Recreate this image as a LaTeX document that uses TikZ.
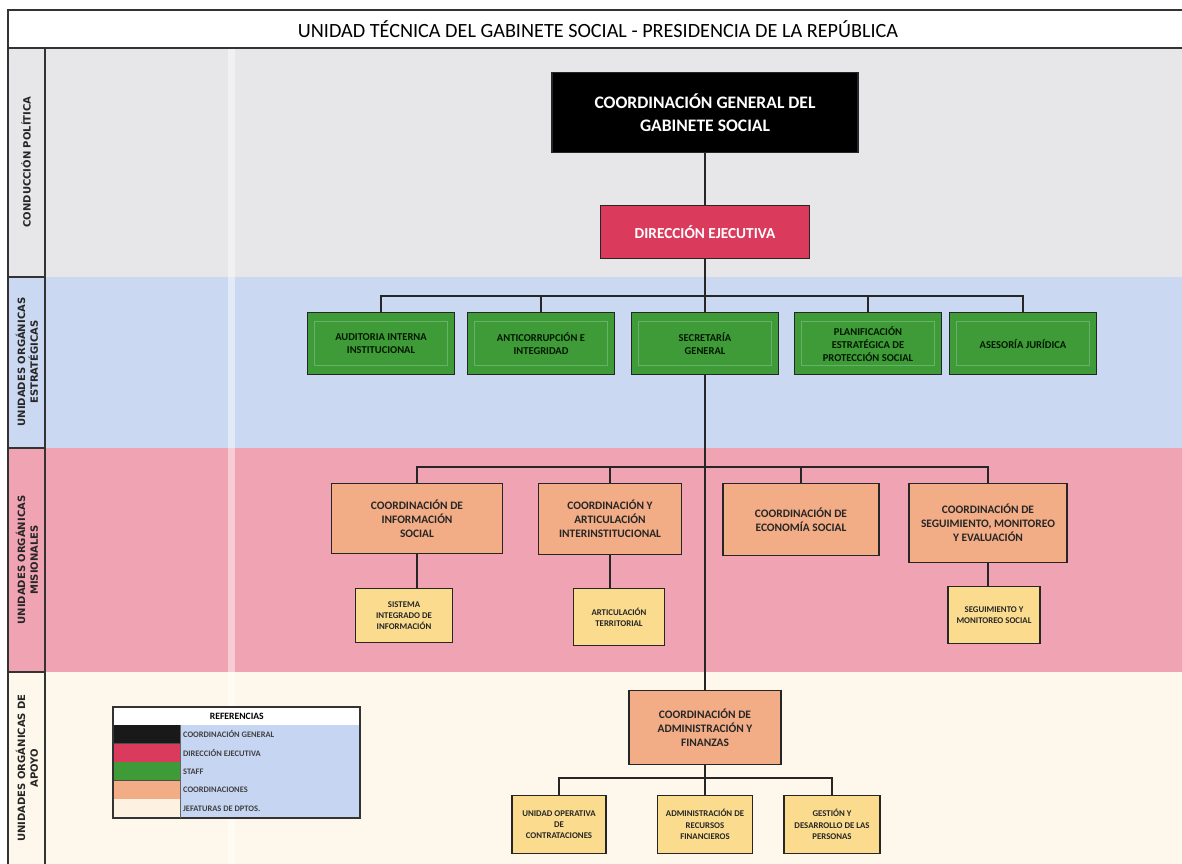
\documentclass[tikz,border=0pt]{standalone}
\usepackage{fontspec}
\setmainfont{Carlito}
\newfontfamily\bandfont{DejaVu Sans}
\definecolor{bandgray}{HTML}{E7E7E9}
\definecolor{bandblue}{HTML}{CBD8F1}
\definecolor{bandpink}{HTML}{F0A3B3}
\definecolor{bandcream}{HTML}{FDF8EB}
\definecolor{dirred}{HTML}{DA3A5C}
\definecolor{staffgreen}{HTML}{3F9B37}
\definecolor{coordorange}{HTML}{F2AC86}
\definecolor{jefeyellow}{HTML}{FBDC8E}
\definecolor{refcream}{HTML}{FDF2E2}
\definecolor{refblue}{HTML}{C6D6F2}

\begin{document}
\begin{tikzpicture}[x=0.02cm,y=0.02cm,
  box/.style={draw=black!85,line width=0.8pt,align=center,inner sep=1pt,anchor=north},
  staffbox/.style={box,fill=staffgreen,text=black!90!green,minimum width=2.94cm,minimum height=1.24cm,
    font=\bfseries\fontsize{6}{7.4}\selectfont,
    path picture={\draw[green!50!black!60,line width=0.5pt] ([shift={(4pt,5pt)}]path picture bounding box.south west) rectangle ([shift={(-4pt,-5pt)}]path picture bounding box.north east);}},
  coordbox/.style={box,fill=coordorange,text=black!85,font=\bfseries\fontsize{6.5}{8}\selectfont},
  jefebox/.style={box,fill=jefeyellow,text=black!85,font=\bfseries\fontsize{5}{6.5}\selectfont},
  link/.style={line width=1.1pt,black!85},
  bandlabel/.style={rotate=90,align=center,text=black!85,font=\bandfont\bfseries\fontsize{5.7}{7.2}\selectfont},
  reftext/.style={anchor=west,inner sep=1pt,text=black!75,font=\bfseries\fontsize{4.8}{5}\selectfont}]
\useasboundingbox (0,0) rectangle (1182,864);
\fill[white] (0,0) rectangle (1182,864);
\fill[bandgray] (8,587) rectangle (1182,816);
\fill[bandblue] (8,416) rectangle (1182,587);
\fill[bandpink] (8,192) rectangle (1182,416);
\fill[bandcream] (8,0) rectangle (1182,192);
\fill[white,opacity=0.45] (228,0) rectangle (235,816);
\draw[line width=0.8pt,black!80] (8,0) -- (8,854) -- (1182,854);
\draw[line width=0.8pt,black!80] (8,816) -- (1182,816);
\draw[line width=0.8pt,black!80] (45,0) -- (45,816);
\foreach \y in {587,416,192} {
    \draw[line width=0.8pt,black!80] (8,\y) -- (45,\y);
}
\node[font=\fontsize{11.5}{13}\selectfont] (titulo) at (598,835) {UNIDAD TÉCNICA DEL GABINETE SOCIAL - PRESIDENCIA DE LA REPÚBLICA};
\node[bandlabel] (conduccion) at (26,702) {CONDUCCIÓN POLÍTICA};
\node[bandlabel] (estrategicas) at (27,502) {UNIDADES ORGÁNICAS\\ESTRATÉGICAS};
\node[bandlabel] (misionales) at (27,304) {UNIDADES ORGÁNICAS\\MISIONALES};
\node[bandlabel] (apoyo) at (27,96) {UNIDADES ORGÁNICAS DE\\APOYO};

\node[box,fill=black,text=white,minimum width=6.12cm,minimum height=1.6cm,font=\bfseries\fontsize{10}{13}\selectfont] (cg) at (705,792) {COORDINACIÓN GENERAL DEL\\GABINETE SOCIAL};
\node[box,fill=dirred,text=white,minimum width=4.18cm,minimum height=1.06cm,font=\bfseries\fontsize{8.7}{10}\selectfont] (de) at (705,659) {DIRECCIÓN EJECUTIVA};

\node[staffbox] (aud) at (381,552) {AUDITORIA INTERNA\\INSTITUCIONAL};
\node[staffbox] (anti) at (541,552) {ANTICORRUPCIÓN E\\INTEGRIDAD};
\node[staffbox] (sec) at (705,552) {SECRETARÍA\\GENERAL};
\node[staffbox] (plan) at (868,552) {PLANIFICACIÓN\\ESTRATÉGICA DE\\PROTECCIÓN SOCIAL};
\node[staffbox] (ase) at (1023,552) {ASESORÍA JURÍDICA};

\node[coordbox,minimum width=3.42cm,minimum height=1.4cm] (info) at (417,381) {COORDINACIÓN DE\\INFORMACIÓN\\SOCIAL};
\node[coordbox,minimum width=2.86cm,minimum height=1.42cm] (art) at (610,381) {COORDINACIÓN Y\\ARTICULACIÓN\\INTERINSTITUCIONAL};
\node[coordbox,minimum width=3.12cm,minimum height=1.44cm] (eco) at (801,381) {COORDINACIÓN DE\\ECONOMÍA SOCIAL};
\node[coordbox,minimum width=3.16cm,minimum height=1.58cm] (seg) at (988,381) {COORDINACIÓN DE\\SEGUIMIENTO, MONITOREO\\Y EVALUACIÓN};

\node[jefebox,minimum width=1.94cm,minimum height=1.08cm] (sis) at (404,276) {SISTEMA\\INTEGRADO DE\\INFORMACIÓN};
\node[jefebox,minimum width=1.82cm,minimum height=1.14cm] (terr) at (619,276) {ARTICULACIÓN\\TERRITORIAL};
\node[jefebox,minimum width=1.84cm,minimum height=1.14cm] (segsoc) at (994,278) {SEGUIMIENTO Y\\MONITOREO SOCIAL};

\node[coordbox,minimum width=3.04cm,minimum height=1.48cm] (cad) at (705,174) {COORDINACIÓN DE\\ADMINISTRACIÓN Y\\FINANZAS};
\node[jefebox,minimum width=1.88cm,minimum height=1.16cm] (uoc) at (559,69) {UNIDAD OPERATIVA\\DE\\CONTRATACIONES};
\node[jefebox,minimum width=1.9cm,minimum height=1.16cm] (arf) at (705,69) {ADMINISTRACIÓN DE\\RECURSOS\\FINANCIEROS};
\node[jefebox,minimum width=1.92cm,minimum height=1.16cm] (gdp) at (832,69) {GESTIÓN Y\\DESARROLLO DE LAS\\PERSONAS};

\draw[link] (cg) -- (de);
\draw[link] (de) -- (sec);
\draw[link] (aud.north) -- ++(0,16) -| (ase.north);
\foreach \n in {anti,plan} {
    \draw[link] (\n.north) -- ++(0,16);
}
\draw[link] (sec) -- (cad);
\draw[link] (info.north) -- ++(0,16) -| (seg.north);
\foreach \n in {art,eco} {
    \draw[link] (\n.north) -- ++(0,16);
}
\draw[link] (info.south) -- (info.south |- sis.north);
\draw[link] (art.south) -- (art.south |- terr.north);
\draw[link] (seg.south) -- (seg.south |- segsoc.north);
\draw[link] (cad) -- (arf);
\draw[link] (uoc.north) -- ++(0,17) -| (gdp.north);

\node[draw=black!80,fill=white,anchor=north west,minimum width=4.94cm,minimum height=0.36cm,inner sep=0pt,font=\bfseries\fontsize{5.5}{6}\selectfont] (refs) at (113,157) {REFERENCIAS};
\fill[refblue] (180,46) rectangle (360,139);
\foreach \c/\t [count=\i] in {black!90/COORDINACIÓN GENERAL,dirred/DIRECCIÓN EJECUTIVA,staffgreen/STAFF,coordorange/COORDINACIONES,refcream/JEFATURAS DE DPTOS.} {
    \fill[\c] (113,{139-(\i-1)*18.6}) rectangle (180,{139-\i*18.6});
    \draw[black!70,line width=0.5pt] (113,{139-\i*18.6}) -- (180,{139-\i*18.6});
    \node[reftext] (ref\i) at (181,{139-(\i-0.5)*18.6}) {\t};
}
\draw[black!80,line width=0.6pt] (113,46) rectangle (360,157);
\draw[black!60,line width=0.4pt] (180,46) -- (180,139);
\end{tikzpicture}
\end{document}
